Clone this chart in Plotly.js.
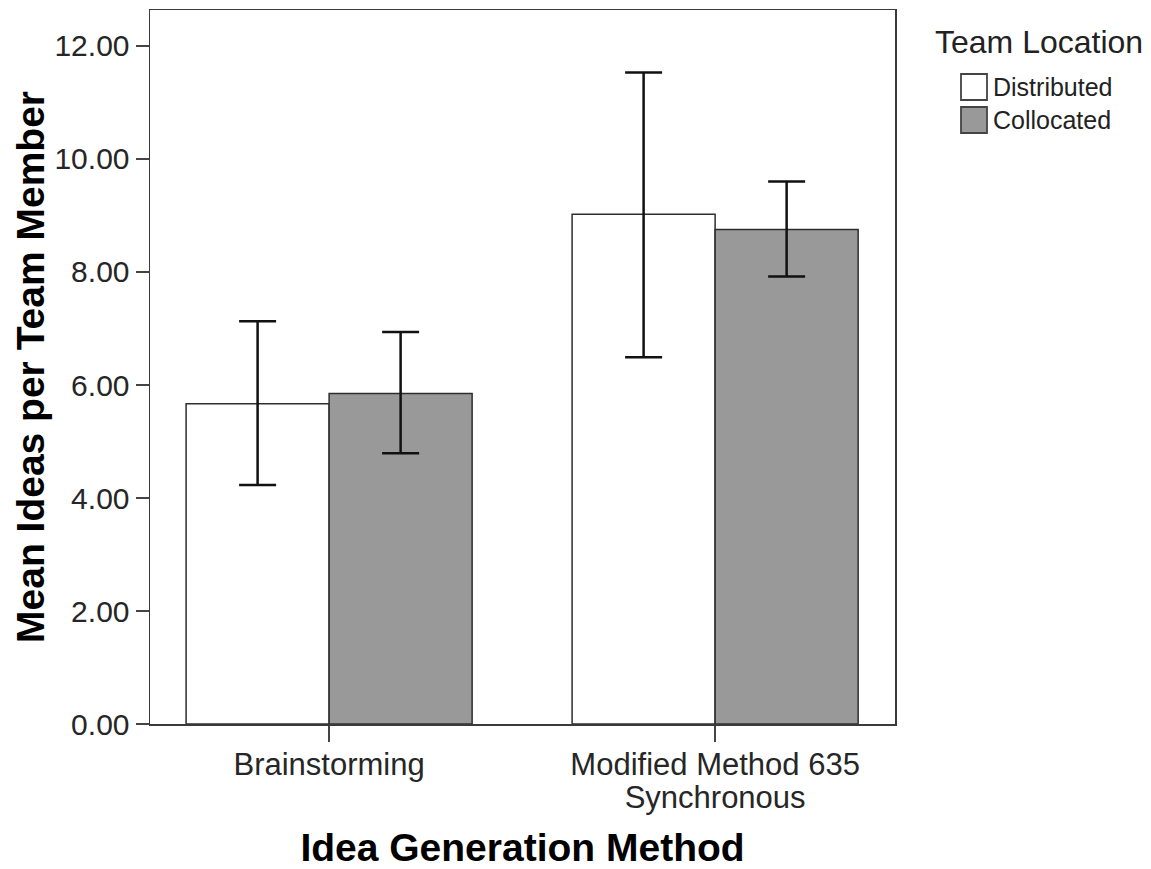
<!DOCTYPE html>
<html>
<head>
<meta charset="utf-8">
<script src="https://cdn.plot.ly/plotly-3.0.1.min.js"></script>
<style>
  html, body { margin: 0; padding: 0; background: #ffffff; }
  #chart { width: 1151px; height: 869px; }
</style>
</head>
<body>
<div id="chart"></div>
<script>
// Idea generation methods on the category axis
const methods = ['Brainstorming', 'Modified Method 635<br>Synchronous'];

// Series names (team location)
const seriesNames = ['Distributed', 'Collocated'];

// Mean ideas per team member
const distributedMean = [5.67, 9.02];
const collocatedMean  = [5.85, 8.75];

// Error bar limits (upper / lower)
const distributedUpper = [7.13, 11.53];
const distributedLower = [4.23, 6.49];
const collocatedUpper  = [6.94, 9.60];
const collocatedLower  = [4.79, 7.92];

// Y axis ticks
const yTickVals = [0, 2, 4, 6, 8, 10, 12];

const FONT = 'Liberation Sans, Arial, Helvetica, sans-serif';
const EDGE = '#2e2e2e';

function errorBars(means, upper, lower) {
  return {
    type: 'data',
    symmetric: false,
    array: upper.map((u, i) => u - means[i]),
    arrayminus: lower.map((l, i) => means[i] - l),
    color: '#111111',
    thickness: 2.5,
    width: 18.5
  };
}

const traces = [
  {
    type: 'bar',
    name: seriesNames[0],
    x: methods,
    y: distributedMean,
    marker: { color: '#ffffff', line: { color: EDGE, width: 1.5 } },
    error_y: errorBars(distributedMean, distributedUpper, distributedLower),
    hoverinfo: 'skip'
  },
  {
    type: 'bar',
    name: seriesNames[1],
    x: methods,
    y: collocatedMean,
    marker: { color: '#999999', line: { color: EDGE, width: 1.5 } },
    error_y: errorBars(collocatedMean, collocatedUpper, collocatedLower),
    hoverinfo: 'skip'
  }
];

// Legend drawn beside the plot: swatches as pixel-sized shapes, labels as annotations
const swatchFill = ['#ffffff', '#999999'];
const shapes = seriesNames.map((name, i) => ({
  type: 'rect',
  xref: 'paper', yref: 'paper',
  xsizemode: 'pixel', ysizemode: 'pixel',
  xanchor: 1, yanchor: 1,
  x0: 66, x1: 92,
  y0: -90 - i * 33, y1: -64 - i * 33,
  fillcolor: swatchFill[i],
  line: { color: '#444444', width: 1.8 }
}));

const annotations = [
  {
    text: 'Team Location',
    xref: 'paper', yref: 'paper', x: 1, y: 1,
    xanchor: 'left', yanchor: 'middle',
    xshift: 38, yshift: -32,
    showarrow: false,
    font: { family: FONT, size: 32, color: '#222222' }
  }
].concat(seriesNames.map((name, i) => ({
  text: name,
  xref: 'paper', yref: 'paper', x: 1, y: 1,
  xanchor: 'left', yanchor: 'middle',
  xshift: 96, yshift: -77 - i * 33,
  showarrow: false,
  font: { family: FONT, size: 25, color: '#222222' }
})));

const layout = {
  width: 1151,
  height: 869,
  margin: { l: 150, r: 256, t: 10, b: 145 },
  paper_bgcolor: '#ffffff',
  plot_bgcolor: '#ffffff',
  showlegend: false,
  barmode: 'group',
  bargap: 0.259,
  bargroupgap: 0,
  font: { family: FONT, color: '#262626' },
  xaxis: {
    type: 'category',
    range: [-0.464, 1.466],
    showgrid: false,
    zeroline: false,
    showline: true,
    mirror: true,
    linecolor: '#3a3a3a',
    linewidth: 1.5,
    ticks: 'outside',
    ticklen: 16,
    tickwidth: 1.5,
    tickcolor: '#444444',
    tickfont: { family: FONT, size: 31, color: '#262626' },
    title: {
      text: 'Idea Generation Method',
      font: { family: FONT, size: 39, color: '#000000', weight: 'bold' }
    }
  },
  yaxis: {
    range: [0, 12.637],
    tickvals: yTickVals,
    tickformat: '.2f',
    showgrid: false,
    zeroline: false,
    showline: true,
    mirror: true,
    linecolor: '#3a3a3a',
    linewidth: 1.5,
    ticks: 'outside',
    ticklen: 13,
    tickwidth: 1.5,
    tickcolor: '#444444',
    tickfont: { family: FONT, size: 30, color: '#262626' },
    title: {
      text: 'Mean Ideas per Team Member',
      font: { family: FONT, size: 39, color: '#000000', weight: 'bold' }
    }
  },
  shapes: shapes,
  annotations: annotations
};

Plotly.newPlot('chart', traces, layout, { staticPlot: true, displayModeBar: false })
  .then(gd => {
    // Tighter line spacing for the two-line category label, and nudge labels up a little
    gd.querySelectorAll('.xtick text').forEach(t => {
      t.setAttribute('transform', (t.getAttribute('transform') || '') + ' translate(0,-4)');
      t.querySelectorAll('tspan.line').forEach((ts, k) => {
        if (k > 0) ts.setAttribute('dy', '1.07em');
      });
    });
  });
</script>
</body>
</html>
